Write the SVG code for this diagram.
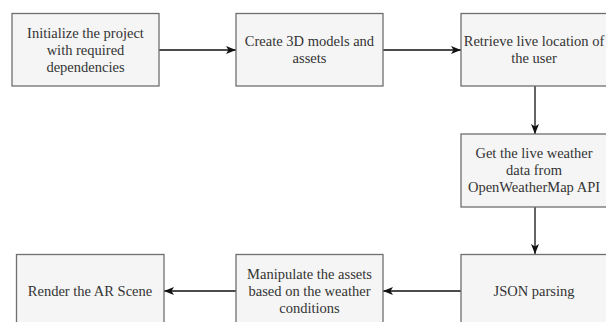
<svg xmlns="http://www.w3.org/2000/svg" width="606" height="322" viewBox="0 0 606 322">
<style>
.box{fill:#f5f5f5;stroke:#6f6f6f;stroke-width:1.3}
.t{font-family:"Liberation Serif","Times New Roman",serif;font-size:14.5px;fill:#333;text-anchor:middle}
.e{fill:none;stroke:#111;stroke-width:1.3}
</style>
<defs>
<marker id="ah" viewBox="0 0 10 8" refX="10" refY="4" markerWidth="10" markerHeight="8" markerUnits="userSpaceOnUse" orient="auto">
<path d="M0,0 L10,4 L0,8 L2.5,4 Z" fill="#111"/>
</marker>
</defs>
<rect width="606" height="322" fill="#fff"/>
<g id="edges">
<line class="e" x1="159" y1="50" x2="236" y2="50" marker-end="url(#ah)"/>
<line class="e" x1="383" y1="50" x2="461" y2="50" marker-end="url(#ah)"/>
<line class="e" x1="535" y1="86" x2="535" y2="134" marker-end="url(#ah)"/>
<line class="e" x1="535" y1="207" x2="535" y2="254" marker-end="url(#ah)"/>
<line class="e" x1="461" y1="291" x2="383" y2="291" marker-end="url(#ah)"/>
<line class="e" x1="236" y1="291" x2="164" y2="291" marker-end="url(#ah)"/>
</g>
<g id="n1"><rect class="box" x="12" y="13.5" width="147" height="72.5"/>
<text class="t" x="85.5" y="38">Initialize the project</text>
<text class="t" x="85.5" y="55">with required</text>
<text class="t" x="85.5" y="72">dependencies</text></g>
<g id="n2"><rect class="box" x="236" y="13.5" width="147" height="72.5"/>
<text class="t" x="309.5" y="46">Create 3D models and</text>
<text class="t" x="309.5" y="63">assets</text></g>
<g id="n3"><rect class="box" x="461" y="13.5" width="147" height="72.5"/>
<text class="t" x="534" y="46">Retrieve live location of</text>
<text class="t" x="534" y="63">the user</text></g>
<g id="n4"><rect class="box" x="461" y="134" width="147" height="73"/>
<text class="t" x="534" y="158">Get the live weather</text>
<text class="t" x="534" y="175">data from</text>
<text class="t" x="534" y="192">OpenWeatherMap API</text></g>
<g id="n5"><rect class="box" x="461" y="254.5" width="147" height="73"/>
<text class="t" x="534" y="296">JSON parsing</text></g>
<g id="n6"><rect class="box" x="236" y="254.5" width="147" height="73"/>
<text class="t" x="309.5" y="279">Manipulate the assets</text>
<text class="t" x="309.5" y="296">based on the weather</text>
<text class="t" x="309.5" y="313">conditions</text></g>
<g id="n7"><rect class="box" x="16.5" y="254.5" width="147.5" height="73"/>
<text class="t" x="90" y="296">Render the AR Scene</text></g>
</svg>
